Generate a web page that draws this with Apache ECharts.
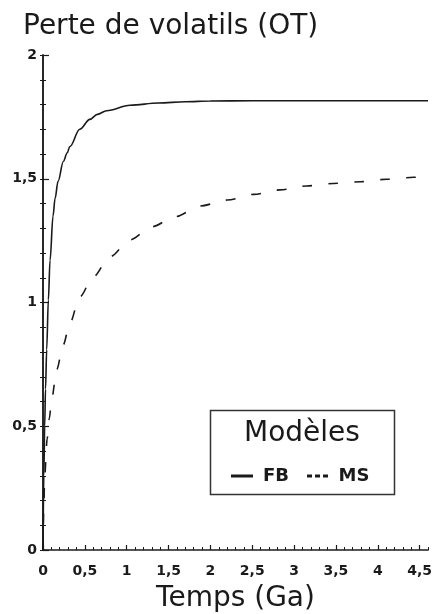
<!DOCTYPE html>
<html>
<head>
<meta charset="utf-8">
<script src="https://cdn.jsdelivr.net/npm/echarts@6/dist/echarts.min.js"></script>
<style>html,body{margin:0;padding:0;background:#fff}#c{width:435px;height:614px}</style>
</head>
<body>
<div id="c"></div>
<script>
// Time (Ga) and volatile loss (OT) for the FB model
var fbTime = [0, 0.01, 0.02, 0.03, 0.044, 0.064, 0.084, 0.12, 0.144, 0.18, 0.243, 0.29, 0.32, 0.44, 0.56, 0.65, 0.76, 1.04, 1.38, 1.7, 2.0, 2.5, 3.0, 3.5, 4.0, 4.5, 4.6];
var fbLoss = [0, 0.3, 0.5, 0.65, 0.81, 1.01, 1.17, 1.35, 1.42, 1.49, 1.57, 1.605, 1.63, 1.70, 1.74, 1.76, 1.775, 1.797, 1.806, 1.811, 1.814, 1.815, 1.815, 1.815, 1.815, 1.815, 1.815];
// Time (Ga) and volatile loss (OT) for the MS model
var msTime = [0, 0.01, 0.02, 0.05, 0.075, 0.104, 0.164, 0.243, 0.32, 0.44, 0.60, 0.80, 1.04, 1.30, 1.58, 1.88, 2.2, 2.52, 2.83, 3.15, 3.47, 3.79, 4.11, 4.43, 4.6];
var msLoss = [0, 0.18, 0.3, 0.45, 0.53, 0.61, 0.73, 0.83, 0.916, 1.023, 1.104, 1.185, 1.253, 1.306, 1.347, 1.39, 1.414, 1.437, 1.455, 1.471, 1.481, 1.488, 1.498, 1.506, 1.51];
var seriesNames = ['FB', 'MS'];
var xTicks = [0, 0.5, 1, 1.5, 2, 2.5, 3, 3.5, 4, 4.5];
var yTicks = [0, 0.5, 1, 1.5, 2];

function pairs(xs, ys) { return xs.map(function (x, i) { return [x, ys[i]]; }); }
function fmt(v) { return String(v).replace('.', ','); }

var ink = '#1a1a1a';
var noLabel = { show: false };
var chart = echarts.init(document.getElementById('c'), null, { renderer: 'canvas' });
chart.setOption({
  animation: false,
  backgroundColor: '#fff',
  title: {
    text: 'Perte de volatils (OT)',
    left: 18, top: 8,
    textStyle: { fontFamily: 'DejaVu Sans', fontSize: 28, fontWeight: 'normal', color: ink }
  },
  grid: { left: 43, right: 7, top: 55, bottom: 64, containLabel: false, outerBoundsMode: 'none' },
  xAxis: [{
    type: 'value', min: 0, max: 4.6, interval: 0.5, position: 'bottom',
    axisLine: { lineStyle: { color: ink, width: 1.5 } },
    axisTick: { inside: true, length: 5, lineStyle: { color: ink, width: 1.2 } },
    splitLine: { show: false },
    axisLabel: {
      showMaxLabel: false, margin: 14,
      fontFamily: 'DejaVu Sans', fontWeight: 'bold', fontSize: 14, color: ink,
      formatter: function (v) { return xTicks.indexOf(+v.toFixed(2)) >= 0 ? fmt(v) : ''; }
    },
    name: 'Temps (Ga)', nameLocation: 'middle', nameGap: 35,
    nameTextStyle: { fontFamily: 'DejaVu Sans', fontSize: 28, color: ink }
  }, {
    type: 'value', min: 0, max: 4.6, position: 'top',
    axisLine: { lineStyle: { color: '#555', width: 1.2 } },
    axisTick: { show: false }, axisLabel: noLabel, splitLine: { show: false }
  }, {
    type: 'value', min: 0, max: 4.6, interval: 0.1, position: 'bottom', offset: 0,
    axisLine: { show: false },
    axisTick: { inside: true, length: 3, lineStyle: { color: ink, width: 1 } },
    axisLabel: noLabel, splitLine: { show: false }
  }],
  yAxis: [{
    type: 'value', min: 0, max: 2, interval: 0.5, position: 'left',
    axisLine: { show: true, lineStyle: { color: ink, width: 1.5 } },
    axisTick: { show: true, inside: true, length: 6, lineStyle: { color: ink, width: 1.2 } },
    splitLine: { show: false },
    axisLabel: {
      margin: 6, fontFamily: 'DejaVu Sans', fontWeight: 'bold', fontSize: 14, color: ink,
      formatter: function (v) { return yTicks.indexOf(+v.toFixed(2)) >= 0 ? fmt(v) : ''; }
    }
  }, {
    type: 'value', min: 0, max: 2, interval: 0.1, position: 'left', offset: 0,
    axisLine: { show: false },
    axisTick: { show: true, inside: true, length: 3, lineStyle: { color: ink, width: 1 } },
    axisLabel: noLabel, splitLine: { show: false }
  }, {
    type: 'value', min: 0, max: 2, interval: 0.1, position: 'right',
    axisLine: { show: true, lineStyle: { color: ink, width: 1.5 } },
    axisTick: { show: true, inside: true, length: 3, lineStyle: { color: ink, width: 1 } },
    axisLabel: noLabel, splitLine: { show: false }
  }],
  legend: {
    left: 226, top: 462, itemGap: 18, itemWidth: 22, itemHeight: 3,
    data: [
      { name: seriesNames[0], icon: 'path://M0,0H22V3H0Z' },
      { name: seriesNames[1], icon: 'path://M0,0H5V3H0Z M8,0H13V3H8Z M16,0H21V3H16Z' }
    ],
    itemStyle: { color: ink },
    textStyle: { fontFamily: 'DejaVu Sans', fontWeight: 'bold', fontSize: 18, color: ink, padding: [0, 0, 0, 5] }
  },
  graphic: [
    { type: 'rect', left: 208, top: 408, shape: { width: 184, height: 84 },
      style: { fill: 'none', stroke: '#333', lineWidth: 1.5 }, z: 10 },
    { type: 'text', left: 244, top: 420,
      style: { text: 'Modèles', fontFamily: 'DejaVu Sans', fontSize: 28, fill: ink }, z: 10 }
  ],
  series: [{
    name: seriesNames[0], type: 'line', symbol: 'none', smooth: 0.35, smoothMonotone: 'x',
    data: pairs(fbTime, fbLoss),
    lineStyle: { color: ink, width: 1.6 }, itemStyle: { color: ink }
  }, {
    name: seriesNames[1], type: 'line', symbol: 'none', smooth: 0.3, smoothMonotone: 'x',
    data: pairs(msTime, msLoss),
    lineStyle: { color: ink, width: 1.6, type: [10, 16] }, itemStyle: { color: ink }
  }]
});
</script>
</body>
</html>
